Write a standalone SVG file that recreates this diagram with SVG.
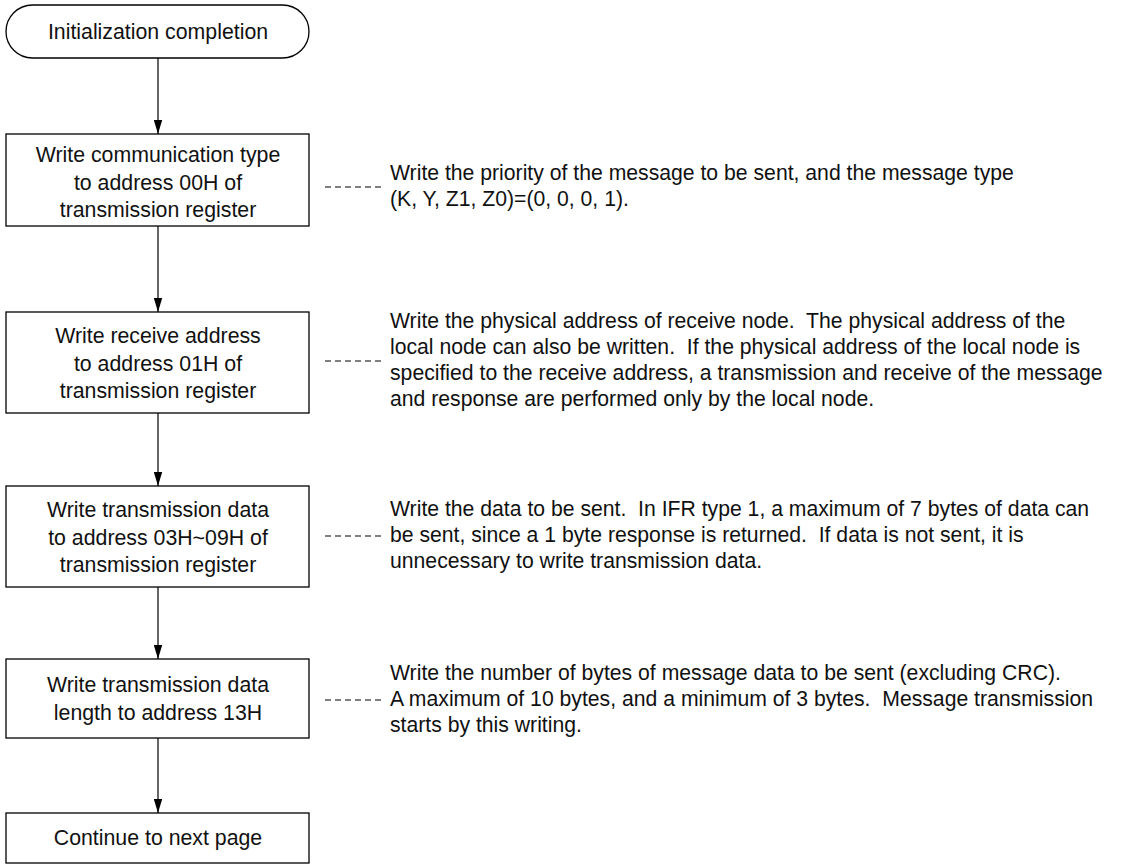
<svg xmlns="http://www.w3.org/2000/svg" width="1121" height="867" viewBox="0 0 1121 867">
<style>
.box{fill:#fff;stroke:#000;stroke-width:1.3}
text{font-family:"Liberation Sans",Arial,sans-serif;fill:#111;white-space:pre}
.t{font-size:21.3px;text-anchor:middle}
.n{font-size:21.2px}
.c{stroke:#000;stroke-width:1.2;fill:none}
.d{stroke:#000;stroke-width:1;stroke-dasharray:6 4;fill:none}
</style>
<defs>
<marker id="arr" markerWidth="14" markerHeight="9" refX="14" refY="4.5" orient="auto" markerUnits="userSpaceOnUse" viewBox="0 0 14 9">
<path d="M0,0.3 L14,4.5 L0,8.7 Z" fill="#000"/>
</marker>
</defs>
<rect width="1121" height="867" fill="#fff"/>
<g id="connectors">
<line class="c" x1="158" y1="58" x2="158" y2="134" marker-end="url(#arr)"/>
<line class="c" x1="158" y1="226" x2="158" y2="312" marker-end="url(#arr)"/>
<line class="c" x1="158" y1="413" x2="158" y2="486" marker-end="url(#arr)"/>
<line class="c" x1="158" y1="587" x2="158" y2="659" marker-end="url(#arr)"/>
<line class="c" x1="158" y1="738" x2="158" y2="813" marker-end="url(#arr)"/>
<line class="d" x1="325" y1="187" x2="383" y2="187"/>
<line class="d" x1="325" y1="361" x2="383" y2="361"/>
<line class="d" x1="325" y1="536" x2="383" y2="536"/>
<line class="d" x1="325" y1="700" x2="383" y2="700"/>
</g>
<g id="start">
<rect class="box" x="6" y="5" width="303" height="53" rx="26.5" ry="26.5"/>
<text class="t" x="158" y="39">Initialization completion</text>
</g>
<g id="step1">
<rect class="box" x="6" y="134" width="303" height="92"/>
<text class="t" x="158" y="162">Write communication type</text>
<text class="t" x="158" y="189.5">to address 00H of</text>
<text class="t" x="158" y="217">transmission register</text>
</g>
<g id="note1">
<text class="n" x="390" y="180">Write the priority of the message to be sent, and the message type</text>
<text class="n" x="390" y="206">(K, Y, Z1, Z0)=(0, 0, 0, 1).</text>
</g>
<g id="step2">
<rect class="box" x="6" y="312" width="303" height="101"/>
<text class="t" x="158" y="343">Write receive address</text>
<text class="t" x="158" y="370.5">to address 01H of</text>
<text class="t" x="158" y="398">transmission register</text>
</g>
<g id="note2">
<text class="n" x="390" y="328">Write the physical address of receive node.  The physical address of the</text>
<text class="n" x="390" y="354">local node can also be written.  If the physical address of the local node is</text>
<text class="n" x="390" y="380">specified to the receive address, a transmission and receive of the message</text>
<text class="n" x="390" y="406">and response are performed only by the local node.</text>
</g>
<g id="step3">
<rect class="box" x="6" y="486" width="303" height="101"/>
<text class="t" x="158" y="517">Write transmission data</text>
<text class="t" x="158" y="544.5">to address 03H~09H of</text>
<text class="t" x="158" y="572">transmission register</text>
</g>
<g id="note3">
<text class="n" x="390" y="516">Write the data to be sent.  In IFR type 1, a maximum of 7 bytes of data can</text>
<text class="n" x="390" y="542">be sent, since a 1 byte response is returned.  If data is not sent, it is</text>
<text class="n" x="390" y="568">unnecessary to write transmission data.</text>
</g>
<g id="step4">
<rect class="box" x="6" y="659" width="303" height="79"/>
<text class="t" x="158" y="692">Write transmission data</text>
<text class="t" x="158" y="719.5">length to address 13H</text>
</g>
<g id="note4">
<text class="n" x="390" y="680">Write the number of bytes of message data to be sent (excluding CRC).</text>
<text class="n" x="390" y="706">A maximum of 10 bytes, and a minimum of 3 bytes.  Message transmission</text>
<text class="n" x="390" y="732">starts by this writing.</text>
</g>
<g id="end">
<rect class="box" x="6" y="813" width="303" height="50"/>
<text class="t" x="158" y="845">Continue to next page</text>
</g>
</svg>
